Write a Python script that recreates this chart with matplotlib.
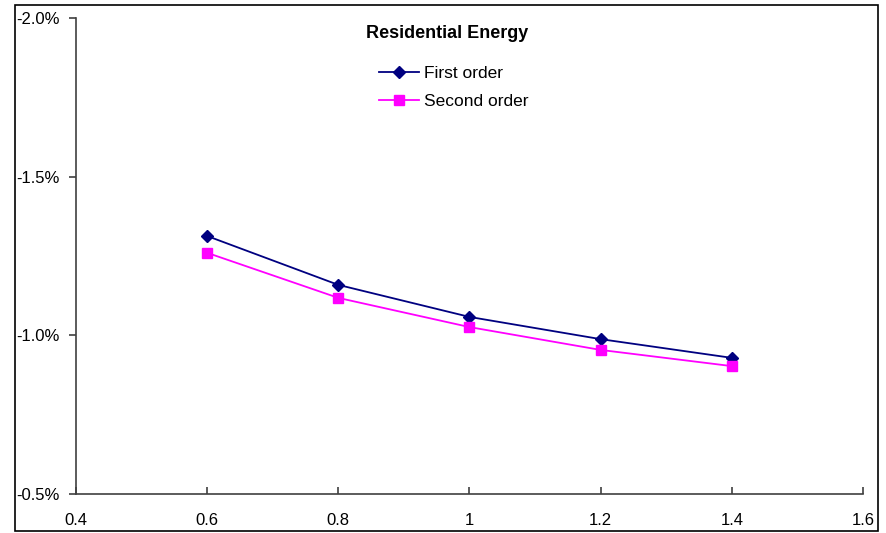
import matplotlib.pyplot as plt
from matplotlib.patches import Rectangle
from matplotlib.ticker import FuncFormatter

plt.rcParams['font.family'] = ['Liberation Sans', 'DejaVu Sans']

x_values = [0.6, 0.8, 1.0, 1.2, 1.4]
first_order = [-1.313, -1.159, -1.058, -0.988, -0.929]
second_order = [-1.260, -1.118, -1.026, -0.954, -0.903]

x_ticks = [0.4, 0.6, 0.8, 1.0, 1.2, 1.4, 1.6]
y_ticks = [-2.0, -1.5, -1.0, -0.5]


def pct(v, pos):
    return f'{v:.1f}%'


fig = plt.figure(figsize=(8.87, 5.33), dpi=100)
ax = fig.add_axes([76 / 887, 1 - 494 / 533, (863 - 76) / 887, (494 - 18) / 533])

ax.plot(x_values, first_order, color='#000080', marker='D', markersize=6,
        linewidth=1.3, label='First order')
ax.plot(x_values, second_order, color='#FF00FF', marker='s', markersize=7,
        linewidth=1.3, label='Second order')

# Excel-style: axis runs from -0.5% (bottom) to -2.0% (top)
ax.set_ylim(-0.5, -2.0)
ax.set_xlim(0.4, 1.6)
ax.set_yticks(y_ticks)
ax.set_xticks(x_ticks)
ax.yaxis.set_major_formatter(FuncFormatter(pct))
ax.set_xticklabels(['0.4', '0.6', '0.8', '1', '1.2', '1.4', '1.6'])

ax.spines['top'].set_visible(False)
ax.spines['right'].set_visible(False)
for s in ('left', 'bottom'):
    ax.spines[s].set_color('#404040')
    ax.spines[s].set_linewidth(1.2)

ax.tick_params(axis='y', direction='out', length=5, width=1.2, color='#404040',
               pad=7, labelsize=12)
ax.tick_params(axis='x', direction='in', length=5, width=1.2, color='#404040',
               pad=14, labelsize=12)

fig.text(447 / 887, 1 - 33 / 533, 'Residential Energy', ha='center', va='center',
         fontsize=13, fontweight='bold')

fig.legend(loc='upper left', bbox_to_anchor=(372 / 887, 1 - 59 / 533),
           frameon=False, fontsize=12.5, handlelength=2.3, handletextpad=0.3,
           labelspacing=0.75, borderaxespad=0)

# outer chart border
fig.patches.append(Rectangle((15 / 887, 1 - 531 / 533), (878 - 15) / 887,
                             (531 - 5) / 533, transform=fig.transFigure,
                             fill=False, edgecolor='black', linewidth=1.2))

fig.savefig('out.png', dpi=100)
